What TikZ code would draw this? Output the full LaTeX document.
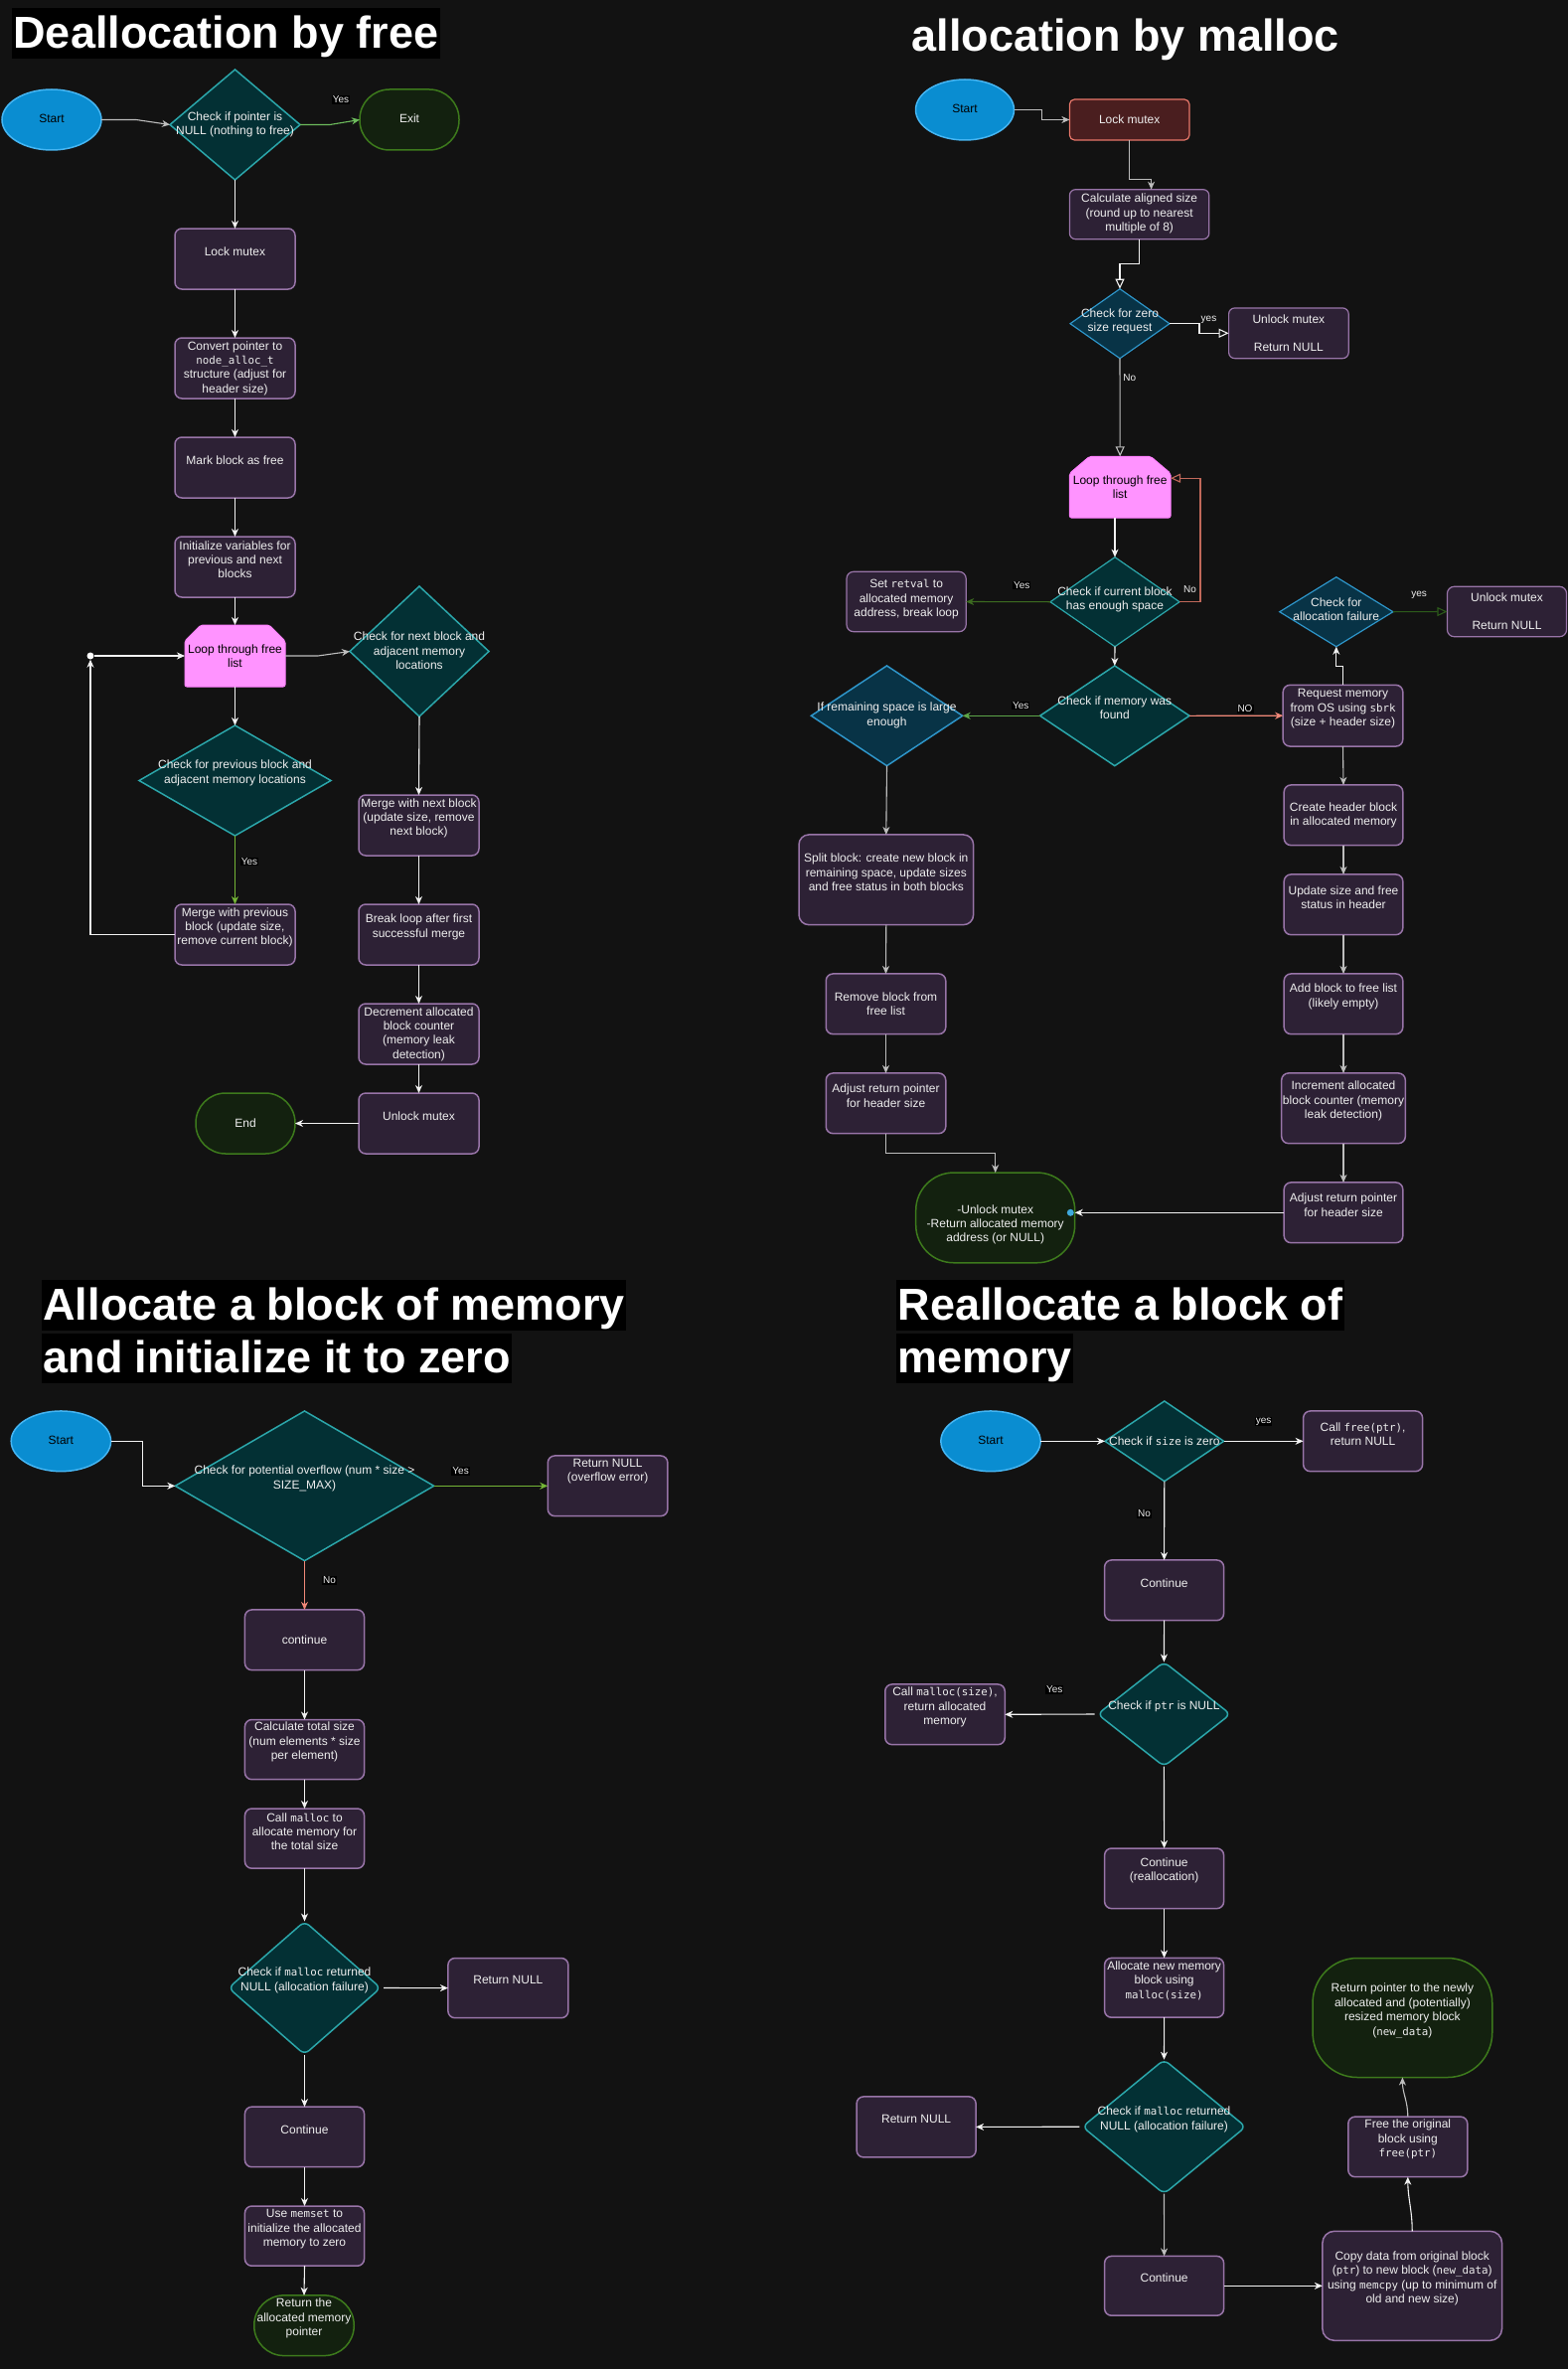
\documentclass[tikz,border=0pt]{standalone}
\usepackage{fontspec}
\setmainfont{Liberation Sans}
\newfontfamily\monof[Scale=0.9]{DejaVu Sans Mono}
\usetikzlibrary{shapes.geometric,arrows.meta,calc}
\newcommand\cd[1]{{\monof #1}}
\definecolor{bg}{HTML}{121212}
\definecolor{boxfill}{HTML}{2D2135}
\definecolor{boxline}{HTML}{9874A8}
\definecolor{tealfill}{HTML}{033034}
\definecolor{tealline}{HTML}{2BA6AA}
\definecolor{bluefill}{HTML}{083346}
\definecolor{blueline}{HTML}{2E95C9}
\definecolor{startfill}{HTML}{0A8DD1}
\definecolor{startline}{HTML}{45B5F2}
\definecolor{termfill}{HTML}{13210F}
\definecolor{termline}{HTML}{3D7A1C}
\definecolor{redfill}{HTML}{4A1E1F}
\definecolor{redline}{HTML}{E8776A}
\definecolor{pinkfill}{HTML}{FF93FF}
\definecolor{pinkline}{HTML}{FF80FF}
\definecolor{textc}{HTML}{EEEEEE}
\definecolor{linec}{HTML}{F2F2F2}
\definecolor{grayc}{HTML}{BDBDBD}
\definecolor{grn1}{HTML}{6DBB5C}
\definecolor{grn2}{HTML}{74B536}
\definecolor{grn3}{HTML}{5DA548}
\definecolor{dgrn1}{HTML}{3C6B20}
\definecolor{dgrn2}{HTML}{2C5A1A}
\definecolor{salm}{HTML}{F08878}
\definecolor{salm2}{HTML}{C0685A}
\definecolor{dotblue}{HTML}{3FA9DD}
\newcommand\pinkshape[3]{%
  \filldraw[fill=pinkfill, draw=pinkline, line width=1pt, rounded corners=2pt]
    ([yshift=-#3pt]#1.north west) -- ([xshift=#2pt]#1.north west) --
    ([xshift=-#2pt]#1.north east) -- ([yshift=-#3pt]#1.north east) --
    (#1.south east) -- (#1.south west) -- cycle;}
\begin{document}
\begin{tikzpicture}[x=1pt,y=-1pt,
  base/.style={inner sep=0pt, outer sep=0pt},
  sz/.style 2 args={minimum width=#1pt, minimum height=#2pt},
  pbox/.style={base, rectangle, draw=boxline, fill=boxfill, line width=1.5pt, rounded corners=7pt},
  tdia/.style={base, diamond, draw=tealline, fill=tealfill, line width=1.5pt},
  bdia/.style={base, diamond, draw=blueline, fill=bluefill, line width=1.2pt},
  startell/.style={base, ellipse, draw=startline, fill=startfill, line width=1.5pt},
  term/.style={base, rectangle, draw=termline, fill=termfill, line width=1.5pt},
  txt/.style={base, text=textc, align=center, font=\fontsize{12}{14.4}\selectfont},
  lbl/.style={base, fill=black, text=textc, font=\fontsize{10}{12}\selectfont, inner sep=1pt},
  nlbl/.style={base, text=textc, font=\fontsize{10}{12}\selectfont},
  conn/.style={draw=linec, line width=1.1pt, -{Stealth[length=8pt,width=7pt,inset=2.5pt]}},
  oconn/.style={draw=linec, line width=1.1pt, -{Triangle[open,length=10pt,width=9pt]}},
  ttl/.style={base, anchor=base west, text=white, font=\bfseries\fontsize{45}{54}\selectfont, text height=40pt, text depth=10.5pt, inner xsep=1.5pt},
]
\fill[bg] (0,0) rectangle (1578,2384);
\useasboundingbox (0,0) rectangle (1578,2384);

% ---------------- titles
\node[ttl, fill=black] (t1) at (12,48.5) {Deallocation by free};
\node[ttl] (t2) at (916,51.7) {allocation by malloc};
\node[ttl, fill=black] (t3a) at (42,1328.3) {Allocate a block of memory};
\node[ttl, fill=black] (t3b) at (42,1381.7) {and initialize it to zero};
\node[ttl, fill=black] (t4a) at (902,1328.3) {Reallocate a block of};
\node[ttl, fill=black] (t4b) at (902,1381.7) {memory};

% ================= Section 1: free
\node[startell, sz={100}{61}] (s1start) at (52,120.5) {};
\node[tdia, sz={131}{111}] (s1chk) at (236.5,125.5) {};
\node[term, sz={100}{61}, rounded corners=30pt] (s1exit) at (412,120.5) {};
\node[pbox, sz={121}{61}] (s1lock) at (236.5,260.5) {};
\node[pbox, sz={121}{61}] (s1conv) at (236.5,370.5) {};
\node[pbox, sz={121}{61}] (s1mark) at (236.5,470.5) {};
\node[pbox, sz={121}{61}] (s1init) at (236.5,570.5) {};
\node[base, sz={101}{62}] (s1loop) at (236.5,660) {};
\pinkshape{s1loop}{16}{16}
\node[tdia, sz={140}{131}] (s1next) at (422,655.5) {};
\node[tdia, sz={193}{111}] (s1prev) at (236.5,785.5) {};
\node[pbox, sz={121}{61}] (s1mprev) at (236.5,940.5) {};
\node[pbox, sz={121}{61}] (s1mnext) at (421.5,830.5) {};
\node[pbox, sz={121}{61}] (s1break) at (421.5,940.5) {};
\node[pbox, sz={121}{61}] (s1dec) at (421.5,1040.5) {};
\node[pbox, sz={121}{61}] (s1unlock) at (421.5,1130.5) {};
\node[term, sz={100}{61}, rounded corners=30pt] (s1end) at (247,1130.5) {};
\node[circle, fill=white, inner sep=0pt, minimum size=7pt] (s1dot) at (91,660) {};

\draw[conn, draw=grayc] (s1start.east) -- (137,120.5) -- (s1chk.west);
\draw[conn, draw=grn1] (s1chk.east) -- (332,125.5) -- (s1exit.west);
\draw[conn] (s1chk.south) -- (s1lock.north);
\draw[conn] (s1lock.south) -- (s1conv.north);
\draw[conn] (s1conv.south) -- (s1mark.north);
\draw[conn] (s1mark.south) -- (s1init.north);
\draw[conn] (s1init.south) -- (s1loop.north);
\draw[conn, draw=grayc] (s1loop.east) -- (320,660) -- (s1next.west);
\draw[conn] (s1loop.south) -- (s1prev.north);
\draw[conn, draw=grn2] (s1prev.south) -- (s1mprev.north);
\draw[conn] (s1mprev.west) -| (s1dot.south);
\draw[conn] (s1dot.east) -- (s1loop.west);
\draw[conn] (s1next.south) -- (s1mnext.north);
\draw[conn] (s1mnext.south) -- (s1break.north);
\draw[conn] (s1break.south) -- (s1dec.north);
\draw[conn] (s1dec.south) -- (s1unlock.north);
\draw[conn] (s1unlock.west) -- (s1end.east);
\node[lbl] (s1y1) at (343,100.5) {Yes};
\node[lbl] (s1y2) at (251,867) {Yes};

\node[txt, text=black] (s1start-t) at (52,119.3) {Start};
\node[txt] (s1chk-t) at (236.5,125.2) {Check if pointer is\\NULL (nothing to free)};
\node[txt] (s1exit-t) at (412,119.3) {Exit};
\node[txt] (s1lock-t) at (236.5,253) {Lock mutex};
\node[txt] (s1conv-t) at (236.5,370.5) {Convert pointer to\\\cd{node\_alloc\_t}\\structure (adjust for\\header size)};
\node[txt] (s1mark-t) at (236.5,463) {Mark block as free};
\node[txt] (s1init-t) at (236.5,563.3) {Initialize variables for\\previous and next\\blocks};
\node[txt, text=black] (s1loop-t) at (236.5,660.5) {Loop through free\\list};
\node[txt] (s1next-t) at (422,655) {Check for next block and\\adjacent memory\\locations};
\node[txt] (s1prev-t) at (236.5,777.8) {Check for previous block and\\adjacent memory locations};
\node[txt] (s1mprev-t) at (236.5,933.3) {Merge with previous\\block (update size,\\remove current block)};
\node[txt] (s1mnext-t) at (421.5,823.3) {Merge with next block\\(update size, remove\\next block)};
\node[txt] (s1break-t) at (421.5,933) {Break loop after first\\successful merge};
\node[txt] (s1dec-t) at (421.5,1040.5) {Decrement allocated\\block counter\\(memory leak\\detection)};
\node[txt] (s1unlock-t) at (421.5,1123) {Unlock mutex};
\node[txt] (s1end-t) at (247,1129.7) {End};

% ================= Section 2: malloc
\node[startell, sz={99}{61}] (s2start) at (971,110.5) {};
\node[base, rectangle, draw=redline, fill=redfill, line width=1.2pt, rounded corners=5pt, sz={120.6}{41}] (s2lock) at (1136.7,120.5) {};
\node[pbox, line width=1.2pt, rounded corners=6pt, sz={140.4}{50}] (s2calc) at (1146.6,215.7) {};
\node[bdia, sz={100}{70}] (s2zero) at (1127,325.7) {};
\node[pbox, line width=1.2pt, rounded corners=6pt, sz={120.6}{50.7}] (s2ret1) at (1296.9,335.3) {};
\node[base, sz={101.6}{61.7}] (s2loop) at (1127.2,490.2) {};
\pinkshape{s2loop}{20}{17}
\node[tdia, line width=1.2pt, sz={130}{90}] (s2cur) at (1122,605.7) {};
\node[pbox, line width=1.2pt, sz={120.2}{60.4}] (s2retval) at (912.1,605.5) {};
\node[tdia, sz={150.4}{100.7}] (s2found) at (1121.8,720.3) {};
\node[bdia, line width=1.5pt, sz={152.3}{100.7}] (s2rem) at (892.5,720.3) {};
\node[pbox, sz={120.6}{61.7}] (s2req) at (1351.5,720.2) {};
\node[bdia, sz={114.2}{70}] (s2fail) at (1344.8,615.7) {};
\node[pbox, line width=1.2pt, sz={120.1}{50.4}] (s2ret2) at (1516.5,615.5) {};
\node[pbox, sz={119.6}{60.7}] (s2hdr) at (1352,820.3) {};
\node[pbox, sz={119.6}{60.7}] (s2upd) at (1352,910.3) {};
\node[pbox, sz={119.6}{60.7}] (s2add) at (1352,1010.3) {};
\node[pbox, sz={124.6}{70.7}] (s2inc) at (1352,1115.3) {};
\node[pbox, sz={119.6}{60.7}] (s2adjR) at (1352,1220.3) {};
\node[term, sz={160}{90.7}, rounded corners=38pt] (s2end) at (1001.7,1225.4) {};
\node[pbox, sz={175.6}{90.7}, rounded corners=10pt] (s2split) at (891.8,885.3) {};
\node[pbox, sz={120.5}{60.7}] (s2remove) at (891.5,1010.3) {};
\node[pbox, sz={120.5}{60.7}] (s2adjL) at (891.5,1110.3) {};

\draw[conn, draw=grayc] (s2start.east) -- ++(28,0) |- (s2lock.west);
\draw[conn, draw=grayc] (s2lock.south) -- ++(0,39.7) -| ([xshift=12pt]s2calc.north);
\draw[oconn] (s2calc.south) -- ++(0,25) -| (s2zero.north);
\draw[oconn] (s2zero.east) -- ++(30,0) |- (s2ret1.west);
\draw[oconn, draw=grayc] (s2zero.south) -- (s2loop.north);
\draw[conn] (s2loop.south -| s2cur.north) -- (s2cur.north);
\draw[conn, draw=dgrn1] (s2cur.west) -- (s2retval.east);
\draw[oconn, draw=salm2] (s2cur.east) -- ++(21,0) |- ([yshift=9pt]s2loop.east);
\draw[conn] (s2cur.south) -- (s2found.north);
\draw[conn, draw=grn3] (s2found.west) -- (s2rem.east);
\draw[conn, draw=salm] (s2found.east) -- (s2req.west);
\draw[conn] (s2req.north) -- ++(0,-18.6) -| (s2fail.south);
\draw[oconn, draw=dgrn2] (s2fail.east) -- (s2ret2.west);
\draw[conn, draw=grayc] (s2req.south) -- (s2hdr.north);
\draw[conn, draw=grayc] (s2hdr.south) -- (s2upd.north);
\draw[conn, draw=grayc] (s2upd.south) -- (s2add.north);
\draw[conn, draw=grayc] (s2add.south) -- (s2inc.north);
\draw[conn, draw=grayc] (s2inc.south) -- (s2adjR.north);
\draw[conn] (s2adjR.west) -- (s2adjR.west -| s2end.east);
\draw[conn, draw=grayc] (s2rem.south) -- (s2split.north);
\draw[conn, draw=grayc] (s2split.south) -- (s2remove.north);
\draw[conn, draw=grayc] (s2remove.south) -- (s2adjL.north);
\draw[conn, draw=grayc] (s2adjL.south) -- ++(0,20) -| (s2end.north);
\node[circle, fill=dotblue, inner sep=0pt, minimum size=7pt] (s2dot) at (1077.3,1220.3) {};

\node[nlbl] (s2l1) at (1216.5,321.7) {yes};
\node[nlbl] (s2l2) at (1136.7,380) {No};
\node[lbl] (s2l3) at (1028.2,589) {Yes};
\node[nlbl] (s2l4) at (1197.5,593.3) {No};
\node[lbl] (s2l5) at (1027.3,710) {Yes};
\node[lbl] (s2l6) at (1253,713.3) {NO};
\node[nlbl] (s2l7) at (1428.2,599) {yes};

\node[txt, text=black] (s2start-t) at (971,109.3) {Start};
\node[txt] (s2lock-t) at (1136.7,120) {Lock mutex};
\node[txt] (s2calc-t) at (1146.6,215) {Calculate aligned size\\(round up to nearest\\multiple of 8)};
\node[txt] (s2zero-t) at (1127,323.2) {Check for zero\\size request};
\node[txt] (s2ret1-t) at (1296.9,335.2) {Unlock mutex\\ \\Return NULL};
\node[txt, text=black] (s2loop-t) at (1127.2,490.2) {Loop through free\\list};
\node[txt] (s2cur-t) at (1122,603.3) {Check if current block\\has enough space};
\node[txt] (s2retval-t) at (912.1,603.2) {Set \cd{retval} to\\allocated memory\\address, break loop};
\node[txt] (s2found-t) at (1121.8,712.5) {Check if memory was\\found};
\node[txt] (s2rem-t) at (892.5,720) {If remaining space is large\\enough};
\node[txt] (s2req-t) at (1351.5,713.2) {Request memory\\from OS using \cd{sbrk}\\(size + header size)};
\node[txt] (s2fail-t) at (1344.8,613.2) {Check for\\allocation failure};
\node[txt] (s2ret2-t) at (1516.5,615.3) {Unlock mutex\\ \\Return NULL};
\node[txt] (s2hdr-t) at (1352,820.2) {Create header block\\in allocated memory};
\node[txt] (s2upd-t) at (1352,903) {Update size and free\\status in header};
\node[txt] (s2add-t) at (1352,1002.8) {Add block to free list\\(likely empty)};
\node[txt] (s2inc-t) at (1352,1108.1) {Increment allocated\\block counter (memory\\leak detection)};
\node[txt] (s2adjR-t) at (1352,1212.7) {Adjust return pointer\\for header size};
\node[txt] (s2end-t) at (1001.7,1232.3) {-Unlock mutex\\-Return allocated memory\\address (or NULL)};
\node[txt] (s2split-t) at (891.8,878.1) {Split block: create new block in\\remaining space, update sizes\\and free status in both blocks};
\node[txt] (s2remove-t) at (891.5,1010.2) {Remove block from\\free list};
\node[txt] (s2adjL-t) at (891.5,1102.7) {Adjust return pointer\\for header size};

% ================= Section 3: calloc
\node[startell, sz={100.4}{60.7}] (s3start) at (61.4,1450.3) {};
\node[tdia, sz={260.3}{150.7}] (s3ovf) at (306.5,1495.3) {};
\node[pbox, sz={120.6}{60.7}] (s3retov) at (611.6,1495.3) {};
\node[pbox, sz={120.1}{60.7}] (s3cont) at (306.5,1650.3) {};
\node[pbox, sz={120.1}{60.2}] (s3calc) at (306.5,1760.6) {};
\node[pbox, sz={120.1}{60.2}] (s3mal) at (306.5,1850.1) {};
\node[tdia, sz={153}{134}, rounded corners=6pt] (s3chk) at (306.5,2000.5) {};
\node[pbox, sz={121}{60.2}] (s3retn) at (511.4,2000.6) {};
\node[pbox, sz={120.1}{60.6}] (s3cont2) at (306.5,2150.4) {};
\node[pbox, sz={120.1}{60.2}] (s3memset) at (306.5,2250.1) {};
\node[term, sz={100.5}{60.7}, rounded corners=30pt] (s3ret) at (306,2340.2) {};

\draw[conn] (s3start.east) -- ++(32,0) |- (s3ovf.west);
\draw[conn, draw=grn2] (s3ovf.east) -- (s3retov.west);
\draw[conn, draw=salm] (s3ovf.south) -- (s3cont.north);
\draw[conn] (s3cont.south) -- (s3calc.north);
\draw[conn] (s3calc.south) -- (s3mal.north);
\draw[conn] (s3mal.south) -- (s3chk.north);
\draw[conn] ([xshift=3pt]s3chk.east) -- (s3retn.west);
\draw[conn] (s3chk.south) -- (s3cont2.north);
\draw[conn] (s3cont2.south) -- (s3memset.north);
\draw[conn] (s3memset.south) -- (s3ret.north);
\node[lbl] (s3l1) at (463.6,1480) {Yes};
\node[lbl] (s3l2) at (331.5,1590) {No};

\node[txt, text=black] (s3start-t) at (61.4,1449.3) {Start};
\node[txt] (s3ovf-t) at (306.5,1487.8) {Check for potential overflow (num * size >\\SIZE\_MAX)};
\node[txt] (s3retov-t) at (611.6,1480.7) {Return NULL\\(overflow error)};
\node[txt] (s3cont-t) at (306.5,1650) {continue};
\node[txt] (s3calc-t) at (306.5,1753.2) {Calculate total size\\(num elements * size\\per element)};
\node[txt] (s3mal-t) at (306.5,1843.1) {Call \cd{malloc} to\\allocate memory for\\the total size};
\node[txt] (s3chk-t) at (306.5,1992.7) {Check if \cd{malloc} returned\\NULL (allocation failure)};
\node[txt] (s3retn-t) at (511.4,1992.3) {Return NULL};
\node[txt] (s3cont2-t) at (306.5,2142.8) {Continue};
\node[txt] (s3memset-t) at (306.5,2243.1) {Use \cd{memset} to\\initialize the allocated\\memory to zero};
\node[txt] (s3ret-t) at (306,2333.1) {Return the\\allocated memory\\pointer};

% ================= Section 4: realloc
\node[startell, sz={100.3}{60.7}] (s4start) at (997,1450.3) {};
\node[tdia, sz={119.6}{80.7}] (s4chk1) at (1171.8,1450.3) {};
\node[pbox, sz={120}{60.7}] (s4free) at (1371.6,1450.3) {};
\node[pbox, sz={120}{60.7}] (s4cont1) at (1171.6,1600.3) {};
\node[tdia, sz={133.7}{105}, rounded corners=6pt] (s4chk2) at (1171.4,1725) {};
\node[pbox, sz={120.5}{60.7}] (s4mal) at (951,1725.3) {};
\node[pbox, sz={120}{60.6}] (s4cont2) at (1171.6,1890.3) {};
\node[pbox, sz={120}{59.8}] (s4alloc) at (1171.6,2000.3) {};
\node[tdia, sz={164.3}{135}, rounded corners=6pt] (s4chk3) at (1171.5,2140.2) {};
\node[pbox, sz={120}{61}] (s4retn) at (922.1,2140.4) {};
\node[pbox, sz={120}{59.8}] (s4cont3) at (1171.6,2300.3) {};
\node[pbox, sz={180.7}{110}, rounded corners=12pt] (s4copy) at (1421.2,2300.3) {};
\node[pbox, sz={120}{60.6}] (s4freeo) at (1416.8,2160.4) {};
\node[term, sz={180.7}{120}, rounded corners=45pt] (s4ret) at (1411.4,2030.5) {};

\draw[conn] (s4start.east) -- (s4chk1.west);
\draw[conn] (s4chk1.east) -- (s4free.west);
\draw[conn] (s4chk1.south) -- (s4cont1.north);
\draw[conn] (s4cont1.south) -- (s4chk2.north);
\draw[conn] ([xshift=-3pt]s4chk2.west) -- (s4mal.east);
\draw[conn] (s4chk2.south) -- (s4cont2.north);
\draw[conn] (s4cont2.south) -- (s4alloc.north);
\draw[conn] (s4alloc.south) -- (s4chk3.north);
\draw[conn] ([xshift=-3pt]s4chk3.west) -- (s4retn.east);
\draw[conn, draw=grayc] (s4chk3.south) -- (s4cont3.north);
\draw[conn] (s4cont3.east) -- (s4copy.west);
\draw[conn] (s4copy.north) to[out=90,in=-90] (s4freeo.south);
\draw[conn, draw=grayc] (s4freeo.north) to[out=90,in=-90] (s4ret.south);
\node[lbl] (s4l1) at (1271.6,1430.7) {yes};
\node[lbl] (s4l2) at (1151.6,1523.3) {No};
\node[lbl] (s4l3) at (1061.2,1700) {Yes};

\node[txt, text=black] (s4start-t) at (997,1449.3) {Start};
\node[txt] (s4chk1-t) at (1171.8,1450) {Check if \cd{size} is zero};
\node[txt] (s4free-t) at (1371.6,1443) {Call \cd{free(ptr)},\\return NULL};
\node[txt] (s4cont1-t) at (1171.6,1592.7) {Continue};
\node[txt] (s4chk2-t) at (1171.4,1717.7) {Check if \cd{ptr} is NULL};
\node[txt] (s4mal-t) at (951,1718.1) {Call \cd{malloc(size)},\\return allocated\\memory};
\node[txt] (s4cont2-t) at (1171.6,1882.6) {Continue\\(reallocation)};
\node[txt] (s4alloc-t) at (1171.6,1993.3) {Allocate new memory\\block using\\\cd{malloc(size)}};
\node[txt] (s4chk3-t) at (1171.5,2132.7) {Check if \cd{malloc} returned\\NULL (allocation failure)};
\node[txt] (s4retn-t) at (922.1,2132.9) {Return NULL};
\node[txt] (s4cont3-t) at (1171.6,2292.6) {Continue};
\node[txt] (s4copy-t) at (1421.2,2293) {Copy data from original block\\(\cd{ptr}) to new block (\cd{new\_data})\\using \cd{memcpy} (up to minimum of\\old and new size)};
\node[txt] (s4freeo-t) at (1416.8,2153.1) {Free the original\\block using\\\cd{free(ptr)}};
\node[txt] (s4ret-t) at (1411.4,2023.4) {Return pointer to the newly\\allocated and (potentially)\\resized memory block\\(\cd{new\_data})};
\end{tikzpicture}
\end{document}
